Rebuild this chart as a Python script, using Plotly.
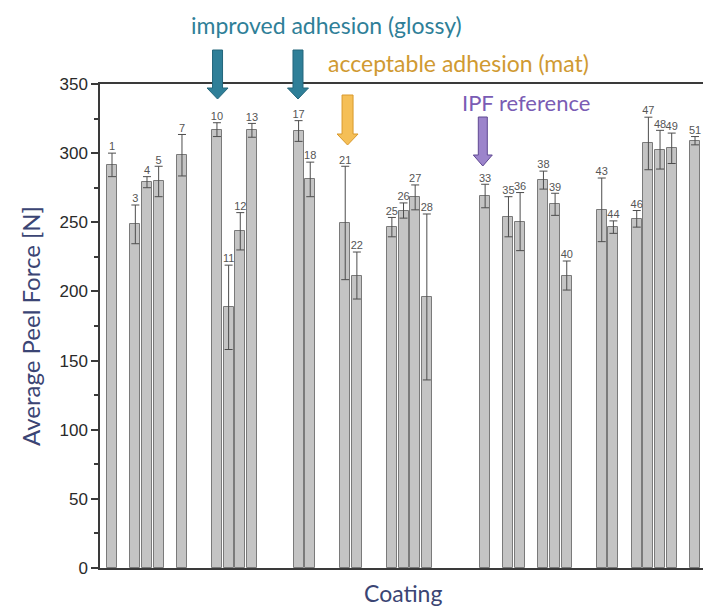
import plotly.graph_objects as go

# ---- data ----
coating_ids = [1, 3, 4, 5, 7, 10, 11, 12, 13, 17, 18, 21, 22, 25, 26, 27, 28,
               33, 35, 36, 38, 39, 40, 43, 44, 46, 47, 48, 49, 51]
peel_force = [291.5, 248.5, 279, 279.5, 298.5, 317, 188.5, 243.5, 316.5, 316,
              281, 249.5, 211.5, 246.5, 258.5, 268, 196, 269, 254, 250.5,
              280.5, 263, 211.5, 259, 246.5, 252.5, 307, 302.5, 303.5, 309]
peel_err = [8.5, 14, 4, 11, 15, 5, 30.5, 13.5, 5, 7.5,
            12.5, 41, 17, 7, 5.5, 9, 60, 8.5, 14.5, 21,
            6.5, 8, 10.5, 23, 4.5, 6, 19, 14, 11, 3]
label_text = [str(c) for c in coating_ids]

y_ticks = [0, 50, 100, 150, 200, 250, 300, 350]

# ---- layout geometry (screen pixels; the page body adds an 8 px offset) ----
OFF = 8
W, H = 711 - OFF, 608 - OFF
L, R, T, B = 100 - OFF, 0, 84 - OFF, 40
XR = [-0.03, 52.37]
plot_w = W - L - R
plot_h = H - T - B


def py(p):
    return (H - B - (p - OFF)) / plot_h


def px(p):
    return ((p - OFF) - L) / plot_w


fig = go.Figure()

fig.add_trace(go.Bar(
    x=coating_ids, y=peel_force, width=0.86,
    marker=dict(color="#c4c4c4", line=dict(color="#7a7a7a", width=1)),
    error_y=dict(type="data", array=peel_err, visible=True,
                 color="#4d4d4d", thickness=1, width=4),
    showlegend=False, hoverinfo="skip",
))

fig.add_trace(go.Scatter(
    x=coating_ids, y=[v + e for v, e in zip(peel_force, peel_err)],
    text=label_text, mode="text", textposition="top center",
    textfont=dict(family="Liberation Sans, Arial", size=11, color="#555555"),
    showlegend=False, hoverinfo="skip", cliponaxis=False,
))


def block_arrow(xc, top, head, tip, shaft_hw, head_hw, fill, edge):
    # xc in data units, vertical values in screen pixels, half-widths in pixels
    u = (XR[1] - XR[0]) / plot_w
    a, b = shaft_hw * u, head_hw * u
    pts = [(xc - a, py(top)), (xc + a, py(top)), (xc + a, py(head)),
           (xc + b, py(head)), (xc, py(tip)), (xc - b, py(head)),
           (xc - a, py(head))]
    path = "M " + " L ".join(f"{x},{y}" for x, y in pts) + " Z"
    fig.add_shape(type="path", path=path, xref="x", yref="paper",
                  fillcolor=fill, line=dict(color=edge, width=1), layer="above")


block_arrow(10.05, 50, 88, 99, 5, 10.5, "#2f7f98", "#23667b")
block_arrow(16.95, 50, 88, 99, 5, 10.5, "#2f7f98", "#23667b")
block_arrow(21.2, 95, 134, 145, 5.5, 10.5, "#f5bf57", "#d9992c")
block_arrow(32.8, 117, 155, 166, 4.5, 9.5, "#9c84cb", "#5f4892")

txt_font = "Lato, Calibri, Open Sans"
fig.add_annotation(text="improved adhesion (glossy)", x=px(326), y=py(25),
                   xref="paper", yref="paper", showarrow=False,
                   xanchor="center", yanchor="middle",
                   font=dict(family=txt_font, size=23, color="#2f7f98"))
fig.add_annotation(text="acceptable adhesion (mat)", x=px(458), y=py(63),
                   xref="paper", yref="paper", showarrow=False,
                   xanchor="center", yanchor="middle",
                   font=dict(family=txt_font, size=23, color="#d09a32"))
fig.add_annotation(text="IPF reference", x=px(526), y=py(102),
                   xref="paper", yref="paper", showarrow=False,
                   xanchor="center", yanchor="middle",
                   font=dict(family=txt_font, size=22, color="#7a5cb4"))
fig.add_annotation(text="Coating", x=px(403), y=py(593),
                   xref="paper", yref="paper", showarrow=False,
                   xanchor="center", yanchor="middle",
                   font=dict(family=txt_font, size=23, color="#3b4574"))
fig.add_annotation(text="Average Peel Force [N]", x=px(30), y=py(326),
                   xref="paper", yref="paper", showarrow=False, textangle=-90,
                   xanchor="center", yanchor="middle",
                   font=dict(family=txt_font, size=24, color="#3b4574"))

fig.update_layout(
    width=W, height=H,
    margin=dict(l=L, r=R, t=T, b=B),
    paper_bgcolor="white", plot_bgcolor="white",
    bargap=0,
    xaxis=dict(range=XR, showgrid=False, zeroline=False, showticklabels=False,
               ticks="", showline=True, linecolor="#3a3a3a", linewidth=1.5,
               mirror=True),
    yaxis=dict(range=[0, 350], tickvals=y_ticks, showgrid=False, zeroline=False,
               showline=True, linecolor="#3a3a3a", linewidth=1.5,
               ticks="outside", ticklen=7, tickwidth=1.5, tickcolor="#3a3a3a",
               minor=dict(dtick=25, ticks="outside", ticklen=4, tickwidth=1.5,
                          tickcolor="#3a3a3a"),
               tickfont=dict(family="Liberation Sans, Arial", size=17,
                             color="#2a2a2a")),
)

fig.write_html("out.html")
